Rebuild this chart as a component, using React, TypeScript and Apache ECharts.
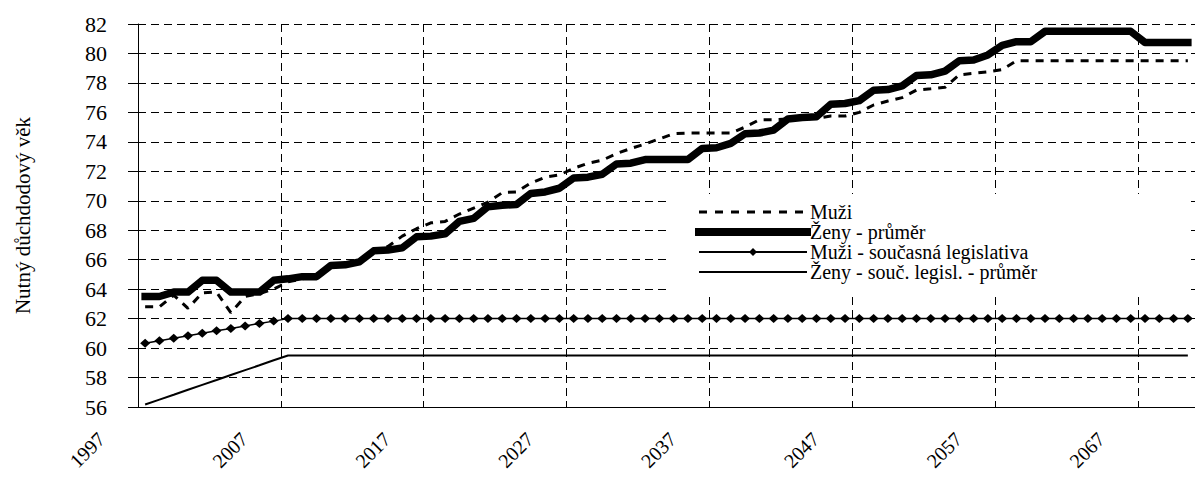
import React, { useEffect, useRef } from "react";
import * as echarts from "echarts";

const firstYear = 1997;
const yearCount = 74;
const years: string[] = Array.from({ length: yearCount }, (_, i) => String(firstYear + i));

const yTicks = { min: 56, max: 82, step: 2 };

const muzi: number[] = [
  62.8, 62.8, 63.6, 62.7, 63.75, 63.8, 62.4, 63.5, 63.7, 64.0,
  64.5, 64.7, 65.0, 65.5, 65.7, 66.0, 66.5, 66.9, 67.6, 68.1,
  68.5, 68.6, 69.1, 69.5, 69.9, 70.55, 70.6, 71.2, 71.6, 71.75,
  72.2, 72.55, 72.75, 73.2, 73.55, 73.85, 74.2, 74.55, 74.6, 74.6,
  74.6, 74.6, 75.0, 75.5, 75.5, 75.55, 75.55, 75.6, 75.75, 75.75,
  76.0, 76.5, 76.77, 77.0, 77.52, 77.6, 77.7, 78.55, 78.65, 78.75,
  78.9, 79.5, 79.5, 79.5, 79.5, 79.5, 79.5, 79.5, 79.5, 79.5,
  79.5, 79.5, 79.5, 79.5,
];

const zenyPrumer: number[] = [
  63.5, 63.5, 63.8, 63.8, 64.6, 64.6, 63.8, 63.8, 63.8, 64.6,
  64.7, 64.85, 64.85, 65.6, 65.65, 65.85, 66.6, 66.65, 66.8, 67.55,
  67.6, 67.75, 68.6, 68.8, 69.6, 69.7, 69.75, 70.5, 70.6, 70.85,
  71.55, 71.6, 71.8, 72.5, 72.55, 72.8, 72.8, 72.8, 72.8, 73.55,
  73.6, 73.9, 74.55, 74.6, 74.8, 75.55, 75.65, 75.7, 76.55, 76.6,
  76.8, 77.5, 77.55, 77.8, 78.5, 78.55, 78.8, 79.5, 79.55, 79.9,
  80.55, 80.8, 80.8, 81.5, 81.5, 81.5, 81.5, 81.5, 81.5, 81.5,
  80.75, 80.75, 80.75, 80.75,
];

const muziLegislativa: number[] = [
  60.33, 60.5, 60.67, 60.83, 61.0, 61.17, 61.33, 61.5, 61.67, 61.83,
  62, 62, 62, 62, 62, 62, 62, 62, 62, 62,
  62, 62, 62, 62, 62, 62, 62, 62, 62, 62,
  62, 62, 62, 62, 62, 62, 62, 62, 62, 62,
  62, 62, 62, 62, 62, 62, 62, 62, 62, 62,
  62, 62, 62, 62, 62, 62, 62, 62, 62, 62,
  62, 62, 62, 62, 62, 62, 62, 62, 62, 62,
  62, 62, 62, 62,
];

const zenyLegislativa: number[] = [
  56.17, 56.5, 56.83, 57.17, 57.5, 57.83, 58.17, 58.5, 58.83, 59.17,
  59.5, 59.5, 59.5, 59.5, 59.5, 59.5, 59.5, 59.5, 59.5, 59.5,
  59.5, 59.5, 59.5, 59.5, 59.5, 59.5, 59.5, 59.5, 59.5, 59.5,
  59.5, 59.5, 59.5, 59.5, 59.5, 59.5, 59.5, 59.5, 59.5, 59.5,
  59.5, 59.5, 59.5, 59.5, 59.5, 59.5, 59.5, 59.5, 59.5, 59.5,
  59.5, 59.5, 59.5, 59.5, 59.5, 59.5, 59.5, 59.5, 59.5, 59.5,
  59.5, 59.5, 59.5, 59.5, 59.5, 59.5, 59.5, 59.5, 59.5, 59.5,
  59.5, 59.5, 59.5, 59.5,
];

const seriesNames = [
  "Muži",
  "Ženy - průměr",
  "Muži - současná legislativa",
  "Ženy - souč. legisl. - průměr",
];

const yAxisName = "Nutný důchdodový věk";
const FONT = "'Liberation Serif', 'Times New Roman', serif";

export default function App() {
  const ref = useRef<HTMLDivElement>(null);

  useEffect(() => {
    if (!ref.current) return;
    const chart = echarts.init(ref.current, undefined, { renderer: "svg" });
    const gridDash = { color: "#000", width: 1, type: [8, 5] as number[] };
    const hidden = { opacity: 0 };
    chart.setOption({
      animation: false,
      backgroundColor: "#fff",
      grid: { left: 138, top: 24, right: 0, bottom: 74, containLabel: false },
      graphic: [
        {
          type: "rect",
          left: 668,
          top: 194,
          z: 3,
          silent: true,
          shape: { width: 519, height: 98 },
          style: { fill: "#fff" },
        },
      ],
      legend: {
        orient: "vertical",
        left: 695,
        top: 202,
        padding: 0,
        z: 5,
        itemWidth: 108,
        itemHeight: 10,
        itemGap: 0,
        textStyle: {
          fontFamily: FONT,
          fontSize: 20,
          lineHeight: 20,
          color: "#000",
          padding: [0, 0, 0, -2],
        },
        data: [
          { name: seriesNames[0], itemStyle: hidden, lineStyle: { width: 3, type: [8, 8], color: "#000" } },
          { name: seriesNames[1], itemStyle: hidden, lineStyle: { width: 8, color: "#000" } },
          { name: seriesNames[2], lineStyle: { width: 2, color: "#000" } },
          { name: seriesNames[3], itemStyle: hidden, lineStyle: { width: 2, color: "#000" } },
        ],
      },
      xAxis: {
        type: "category",
        data: years,
        boundaryGap: true,
        axisLine: { show: true, lineStyle: { color: "#000", width: 1 } },
        axisTick: { show: true, interval: 9, inside: true, length: 5, lineStyle: { color: "#000" } },
        axisLabel: {
          interval: 9,
          rotate: 45,
          fontFamily: FONT,
          fontSize: 20,
          color: "#000",
          margin: -15,
          padding: [0, 62, 0, 0],
        },
        splitLine: { show: true, interval: 9, lineStyle: gridDash },
      },
      yAxis: {
        type: "value",
        min: yTicks.min,
        max: yTicks.max,
        interval: yTicks.step,
        name: yAxisName,
        nameLocation: "middle",
        nameGap: 105,
        nameTextStyle: { fontFamily: FONT, fontSize: 21, color: "#000" },
        axisLine: { show: true, lineStyle: { color: "#000", width: 1 } },
        axisTick: { show: true, inside: false, length: 10, lineStyle: { color: "#000" } },
        axisLabel: { fontFamily: FONT, fontSize: 22, color: "#000", margin: 31 },
        splitLine: { show: true, lineStyle: gridDash },
      },
      series: [
        {
          name: seriesNames[0],
          type: "line",
          data: muzi,
          symbol: "none",
          lineStyle: { color: "#000", width: 3, type: [8, 7] },
          itemStyle: { color: "#000" },
        },
        {
          name: seriesNames[1],
          type: "line",
          data: zenyPrumer,
          symbol: "none",
          lineStyle: { color: "#000", width: 7.5, join: "round", cap: "square" },
          itemStyle: { color: "#000" },
        },
        {
          name: seriesNames[2],
          type: "line",
          data: muziLegislativa,
          symbol: "diamond",
          symbolSize: [10, 9],
          showAllSymbol: true,
          lineStyle: { color: "#000", width: 1.5 },
          itemStyle: { color: "#000" },
        },
        {
          name: seriesNames[3],
          type: "line",
          data: zenyLegislativa,
          symbol: "none",
          lineStyle: { color: "#000", width: 2 },
          itemStyle: { color: "#000" },
        },
      ],
    });
    return () => chart.dispose();
  }, []);

  return (
    <div
      ref={ref}
      style={{ position: "fixed", left: 0, top: 0, width: 1195, height: 481, background: "#fff" }}
    />
  );
}
